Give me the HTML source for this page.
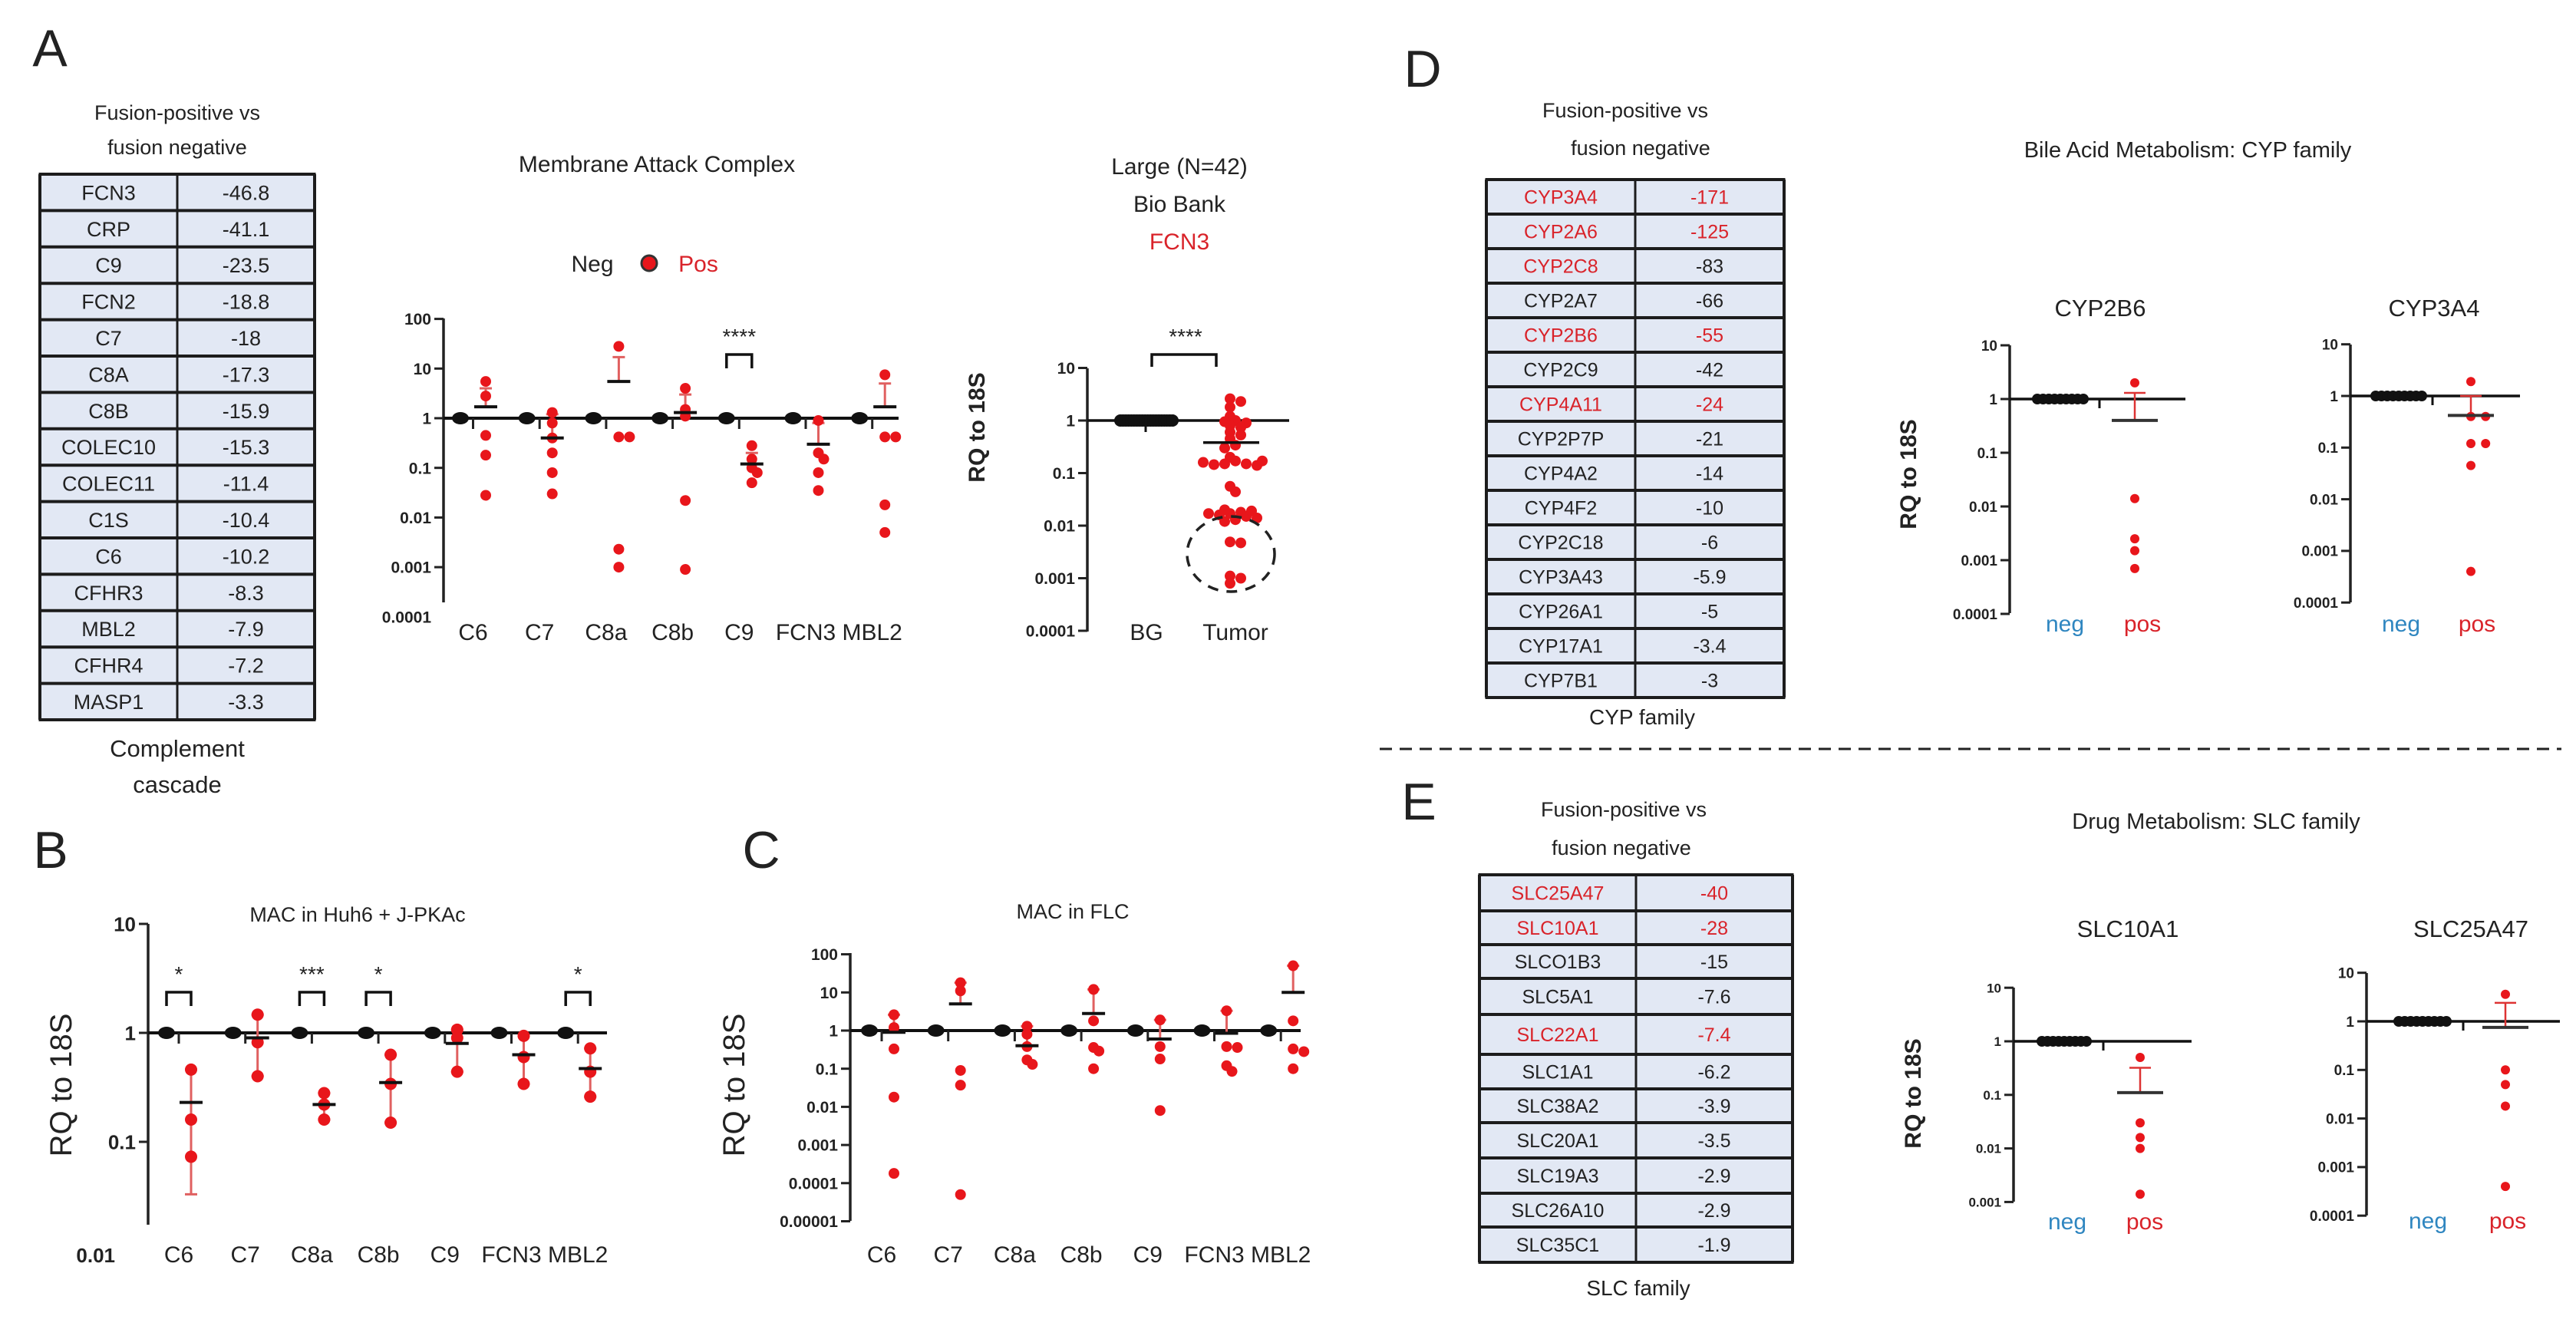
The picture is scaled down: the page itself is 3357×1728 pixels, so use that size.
<!DOCTYPE html>
<html><head><meta charset="utf-8">
<style>
html,body{margin:0;padding:0;background:#fff;}
svg{display:block;}
text{font-family:"Liberation Sans",sans-serif;}
</style></head>
<body>
<svg id="fig" xmlns="http://www.w3.org/2000/svg" width="3357" height="1728" viewBox="0 0 3357 1728">
<rect x="0" y="0" width="3357" height="1728" fill="#fff"/>
</svg>
<script>
// ===== Data =====
const tableAGenes = ["FCN3","CRP","C9","FCN2","C7","C8A","C8B","COLEC10","COLEC11","C1S","C6","CFHR3","MBL2","CFHR4","MASP1"];
const tableAValues = ["-46.8","-41.1","-23.5","-18.8","-18","-17.3","-15.9","-15.3","-11.4","-10.4","-10.2","-8.3","-7.9","-7.2","-3.3"];
const tableDGenes = ["CYP3A4","CYP2A6","CYP2C8","CYP2A7","CYP2B6","CYP2C9","CYP4A11","CYP2P7P","CYP4A2","CYP4F2","CYP2C18","CYP3A43","CYP26A1","CYP17A1","CYP7B1"];
const tableDValues = ["-171","-125","-83","-66","-55","-42","-24","-21","-14","-10","-6","-5.9","-5","-3.4","-3"];
const tableDRedGene = [1,1,1,0,1,0,1,0,0,0,0,0,0,0,0];
const tableDRedVal = [1,1,0,0,1,0,1,0,0,0,0,0,0,0,0];
const tableEGenes = ["SLC25A47","SLC10A1","SLCO1B3","SLC5A1","SLC22A1","SLC1A1","SLC38A2","SLC20A1","SLC19A3","SLC26A10","SLC35C1"];
const tableEValues = ["-40","-28","-15","-7.6","-7.4","-6.2","-3.9","-3.5","-2.9","-2.9","-1.9"];
const tableERed = [1,1,0,0,1,0,0,0,0,0,0];

const macCats = ["C6","C7","C8a","C8b","C9","FCN3","MBL2"];
const macPos = [[5.5,2.8,0.45,0.18,0.028],[1.3,0.8,0.4,0.2,0.08,0.03],[28,0.42,0.42,0.0023,0.001],[4,1.5,1.1,0.022,0.0009],[0.28,0.15,0.1,0.08,0.05],[0.9,0.2,0.15,0.08,0.035],[7.5,0.42,0.42,0.018,0.005]];
const macMean = [1.7,0.4,5.5,1.3,0.12,0.3,1.7];
const macHi = [4,1.2,17,3,0.2,0.8,5];
const macSig = ["","","","","****","",""];
const macTicks = [100,10,1,0.1,0.01,0.001,0.0001];
const macTickLabels = ["100","10","1","0.1","0.01","0.001","0.0001"];

const fcnBG = [1,1,1,1,1,1,1,1,1,1,1,1,1,1,1,1,1,1,1,1];
const fcnTumor = [2.6,2.3,1.8,1.2,1.0,0.95,0.9,0.8,0.74,0.6,0.53,0.45,0.34,0.3,0.2,0.17,0.15,0.15,0.145,0.14,0.16,0.17,0.056,0.044,0.017,0.018,0.016,0.015,0.017,0.02,0.019,0.013,0.014,0.012,0.0049,0.0047,0.0011,0.0008,0.001];
const fcnMean = 0.38;
const fcnTicks = [10,1,0.1,0.01,0.001,0.0001];
const fcnTickLabels = ["10","1","0.1","0.01","0.001","0.0001"];

const bCats = ["C6","C7","C8a","C8b","C9","FCN3","MBL2"];
const bPos = [[0.46,0.16,0.073],[1.47,0.82,0.4],[0.28,0.22,0.16],[0.63,0.34,0.15],[1.07,0.9,0.44],[0.94,0.6,0.34],[0.72,0.44,0.26]];
const bMean = [0.23,0.9,0.22,0.35,0.8,0.63,0.47];
const bLo = [0.033,0.4,0.16,0.15,0.44,0.34,0.26];
const bHi = [0.46,1.47,0.28,0.63,1.07,0.94,0.72];
const bSig = ["*","","***","*","","","*"];
const bTicks = [10,1,0.1];
const bTickLabels = ["10","1","0.1"];

const cCats = ["C6","C7","C8a","C8b","C9","FCN3","MBL2"];
const cPos = [[2.6,1.2,0.33,0.018,0.00018],[18,11,0.09,0.037,0.00005],[1.3,0.8,0.38,0.17,0.13],[12,1.8,0.36,0.29,0.1],[1.9,0.38,0.18,0.008],[3.3,0.38,0.36,0.12,0.085],[50,1.8,0.33,0.28,0.1]];
const cMean = [0.9,5,0.4,2.8,0.6,0.85,10];
const cHi = [2.6,18,1.3,12,1.9,3.3,50];
const cTicks = [100,10,1,0.1,0.01,0.001,0.0001,0.00001];
const cTickLabels = ["100","10","1","0.1","0.01","0.001","0.0001","0.00001"];

const cyp2b6Pos = [2.0,0.014,0.0025,0.0015,0.0007];
const cyp2b6Mean = 0.4, cyp2b6Hi = 1.3;
const cyp3a4Pos = [1.9,0.4,0.4,0.12,0.12,0.045,0.0004];
const cyp3a4Mean = 0.42, cyp3a4Hi = 1.0;
const slc10a1Pos = [0.5,0.03,0.016,0.01,0.0014];
const slc10a1Mean = 0.11, slc10a1Hi = 0.32;
const slc25a47Pos = [3.6,0.1,0.05,0.018,0.0004];
const slc25a47Mean = 0.75, slc25a47Hi = 2.4;
const smallTicks4 = [10,1,0.1,0.01,0.001,0.0001];
const smallTickLabels4 = ["10","1","0.1","0.01","0.001","0.0001"];
const smallTicks3 = [10,1,0.1,0.01,0.001];
const smallTickLabels3 = ["10","1","0.1","0.01","0.001"];

// ===== Helpers =====
const NS = "http://www.w3.org/2000/svg";
const svg = document.getElementById("fig");
const RED = "#e8161b";
function mk(tag, attrs, name, parent) {
  const el = document.createElementNS(NS, tag);
  for (const k in attrs) el.setAttribute(k, attrs[k]);
  
  
  (parent || svg).appendChild(el);
  return el;
}
function txt(x, y, s, size, name, opts) {
  opts = opts || {};
  const el = mk("text", {x: x, y: y, "font-size": size, "text-anchor": opts.anchor || "middle",
    fill: opts.fill || "#222", "font-weight": opts.weight || "normal"}, name, opts.parent);
  if (opts.rotate) el.setAttribute("transform", "rotate(-90 " + x + " " + y + ")");
  el.textContent = s;
  return el;
}
function line(x1, y1, x2, y2, w, color, name, extra) {
  const a = {x1: x1, y1: y1, x2: x2, y2: y2, stroke: color || "#111", "stroke-width": w};
  if (extra) for (const k in extra) a[k] = extra[k];
  return mk("line", a, name);
}
function logScale(yOne, decade) { return v => yOne - Math.log10(v) * decade; }
function yAxis(x, yTop, yBot, ticks, labels, yf, fs, prefix) {
  line(x, yTop, x, yBot, 3.5, "#222", prefix + "-y-axis");
  ticks.forEach((t, i) => {
    const y = yf(t);
    if (y <= yBot + 2) line(x - 12, y, x, y, 3, "#222", prefix + "-y-tick");
    txt(x - 16, y + fs * 0.36, labels[i], fs, prefix + "-y-tick-label", {anchor: "end", weight: "bold"});
  });
}
function table(x0, xd, x1, ys, genes, vals, redG, redV, fs, prefix) {
  mk("rect", {x: x0, y: ys[0], width: x1 - x0, height: ys[ys.length - 1] - ys[0], fill: "#e2e8f4"}, prefix + "-table-bg");
  for (let i = 0; i < ys.length; i++) line(x0 - 1.5, ys[i], x1 + 1.5, ys[i], 4, "#1c1c1c", prefix + "-table-rule");
  line(x0, ys[0], x0, ys[ys.length - 1], 4, "#1c1c1c", prefix + "-table-border");
  line(xd, ys[0], xd, ys[ys.length - 1], 3, "#1c1c1c", prefix + "-table-divider");
  line(x1, ys[0], x1, ys[ys.length - 1], 4, "#1c1c1c", prefix + "-table-border");
  genes.forEach((g, i) => {
    const cy = (ys[i] + ys[i + 1]) / 2 + fs * 0.36;
    txt((x0 + xd) / 2, cy, g, fs, prefix + "-gene-" + g, {fill: redG && redG[i] ? "#d9232a" : "#222"});
    txt((xd + x1) / 2, cy, vals[i], fs, prefix + "-fold-" + g, {fill: redV && redV[i] ? "#d9232a" : "#222"});
  });
}
function swarmOffsets(vals, decade, r) {
  // layout only: spread overlapping points horizontally
  const placed = [];
  return vals.map(v => {
    const y = -Math.log10(v) * decade;
    let off = 0, k = 0;
    while (placed.some(p => Math.hypot(p[0] - off, p[1] - y) < r * 1.2)) {
      k++; off = (k % 2 ? 1 : -1) * Math.ceil(k / 2) * r * 1.0;
    }
    placed.push([off, y]);
    return off;
  });
}
function groupChart(o) {
  const yf = logScale(o.yOne, o.decade);
  yAxis(o.axisX, o.axisTop, o.axisBot, o.ticks, o.tickLabels, yf, o.tickFs, o.prefix);
  line(o.axisX, yf(1), o.lineX2, yf(1), 4, "#111", o.prefix + "-baseline");
  o.cats.forEach((c, i) => {
    const nx = o.negX0 + i * o.sp, px = nx + o.off;
    line(nx + o.off * 0.5, yf(1), nx + o.off * 0.5, yf(1) + 14, 3, "#222", o.prefix + "-x-tick");
    mk("ellipse", {cx: nx, cy: yf(1), rx: o.negR + 3, ry: o.negR, fill: "#111"}, o.prefix + "-neg-" + c);
    const lo = o.lo ? o.lo[i] : o.mean[i];
    line(px, yf(o.hi[i]), px, yf(lo), 3, "#e06060", o.prefix + "-errbar-" + c);
    line(px - 8, yf(o.hi[i]), px + 8, yf(o.hi[i]), 3, "#e06060", o.prefix + "-errcap-" + c);
    if (o.lo) line(px - 8, yf(lo), px + 8, yf(lo), 3, "#e06060", o.prefix + "-errcap-" + c);
    const offs = swarmOffsets(o.pos[i], o.decade, o.posR);
    o.pos[i].forEach((v, j) => {
      mk("circle", {cx: px + offs[j], cy: yf(v), r: o.posR, fill: RED}, o.prefix + "-pos-" + c);
    });
    line(px - 15, yf(o.mean[i]), px + 15, yf(o.mean[i]), 4, "#111", o.prefix + "-mean-" + c);
    txt(nx + o.off / 2 + (o.labelDx || 0), o.labelY, c, o.labelFs, o.prefix + "-x-label-" + c);
    if (o.sig && o.sig[i]) {
      const by = o.sigY;
      mk("path", {d: `M${nx} ${by + 18} V${by} H${px} V${by + 18}`, fill: "none", stroke: "#111", "stroke-width": 3.5}, o.prefix + "-sig-bracket-" + c);
      txt((nx + px) / 2, by - 14, o.sig[i], o.sigFs, o.prefix + "-sig-stars-" + c);
    }
  });
  return yf;
}
function smallChart(o) {
  const yf = logScale(o.yOne, o.decade);
  yAxis(o.axisX, o.axisTop, o.axisBot, o.ticks, o.tickLabels, yf, o.tickFs, o.prefix);
  line(o.axisX, yf(1), o.lineX2, yf(1), 3.5, "#111", o.prefix + "-baseline");
  line(o.tickX, yf(1), o.tickX, yf(1) + 12, 3, "#111", o.prefix + "-x-tick");
  for (let k = 0; k < o.nNeg; k++) {
    mk("circle", {cx: o.negX1 + k * (o.negX2 - o.negX1) / (o.nNeg - 1), cy: yf(1), r: o.r + 1, fill: "#111"}, o.prefix + "-neg-dot");
  }
  line(o.posX, yf(o.hi), o.posX, yf(o.mean), 2.5, "#d33", o.prefix + "-errbar");
  line(o.posX - 14, yf(o.hi), o.posX + 14, yf(o.hi), 2.5, "#d33", o.prefix + "-errcap");
  const offs = swarmOffsets(o.pos, o.decade, o.r * 1.6);
  o.pos.forEach((v, j) => {
    mk("circle", {cx: o.posX + offs[j], cy: yf(v), r: o.r, fill: RED}, o.prefix + "-pos-dot");
  });
  line(o.posX - 30, yf(o.mean), o.posX + 30, yf(o.mean), 4, "#333", o.prefix + "-mean");
  txt(o.titleX, o.titleY, o.title, o.titleFs, o.prefix + "-title");
  txt(o.negLX, o.labelY, "neg", o.labelFs, o.prefix + "-neg-label", {fill: "#2f86c0"});
  txt(o.posLX, o.labelY, "pos", o.labelFs, o.prefix + "-pos-label", {fill: "#d9232a"});
  if (o.rqX) txt(o.rqX, o.rqY, "RQ to 18S", 30, o.prefix + "-y-title", {rotate: true, weight: "bold"});
}
function rowsFrom(top, bottom, n) { const a = []; for (let i = 0; i <= n; i++) a.push(top + (bottom - top) * i / n); return a; }

// ===== Panel A =====
txt(65, 86, "A", 68, "panel-label-a");
txt(231, 156, "Fusion-positive vs", 27, "table-a-header-line1");
txt(231, 201, "fusion negative", 27, "table-a-header-line2");
table(52, 231, 410, rowsFrom(227, 938, 15), tableAGenes, tableAValues, null, null, 27, "table-a");
txt(231, 986, "Complement", 31, "table-a-footer-line1");
txt(231, 1033, "cascade", 31, "table-a-footer-line2");

txt(856, 224, "Membrane Attack Complex", 30, "mac-title");
txt(772, 354, "Neg", 30, "mac-legend-neg");
mk("circle", {cx: 846, cy: 343, r: 10, fill: RED, stroke: "#333", "stroke-width": 3}, "mac-legend-marker");
txt(910, 354, "Pos", 30, "mac-legend-pos", {fill: "#d9232a"});
groupChart({prefix: "mac", cats: macCats, pos: macPos, mean: macMean, hi: macHi, sig: macSig,
  ticks: macTicks, tickLabels: macTickLabels, yOne: 545, decade: 64.7, axisX: 578, axisTop: 415, axisBot: 785,
  tickFs: 21, negX0: 600, sp: 86.7, off: 33, lineX2: 1171, negR: 8, posR: 7, labelY: 834, labelFs: 30,
  sigY: 462, sigFs: 28});

txt(1537, 227, "Large (N=42)", 30, "fcn3-title-line1");
txt(1537, 276, "Bio Bank", 30, "fcn3-title-line2");
txt(1537, 325, "FCN3", 30, "fcn3-title-gene", {fill: "#d9232a"});
(function () {
  const yf = logScale(548, 68.5);
  yAxis(1417, 480, 823, fcnTicks, fcnTickLabels, yf, 21, "fcn3");
  line(1417, yf(1), 1680, yf(1), 3.5, "#111", "fcn3-baseline");
  line(1493, yf(1), 1493, yf(1) + 15, 3, "#111", "fcn3-x-tick");
  fcnBG.forEach((v, k) => {
    mk("circle", {cx: 1460 + k * 68 / (fcnBG.length - 1), cy: yf(v), r: 8, fill: "#111"}, "fcn3-bg-dot");
  });
  const offs = swarmOffsets(fcnTumor, 68.5, 7);
  fcnTumor.forEach((v, j) => {
    mk("circle", {cx: 1603 + offs[j], cy: yf(v), r: 7, fill: RED}, "fcn3-tumor-dot");
  });
  line(1568, yf(fcnMean), 1641, yf(fcnMean), 3.5, "#111", "fcn3-tumor-mean");
  mk("ellipse", {cx: 1604, cy: 722, rx: 57, ry: 49, fill: "none", stroke: "#222", "stroke-width": 3.5, "stroke-dasharray": "14 11"}, "fcn3-dashed-circle");
  mk("path", {d: "M1501 478 V462 H1585 V478", fill: "none", stroke: "#111", "stroke-width": 3.5}, "fcn3-sig-bracket");
  txt(1545, 448, "****", 28, "fcn3-sig-stars");
  txt(1283, 557, "RQ to 18S", 30, "fcn3-y-title", {rotate: true, weight: "bold"});
  txt(1494, 834, "BG", 30, "fcn3-x-label-bg");
  txt(1610, 834, "Tumor", 30, "fcn3-x-label-tumor");
})();

// ===== Panel B =====
txt(66, 1131, "B", 68, "panel-label-b");
txt(466, 1201, "MAC in Huh6 + J-PKAc", 27, "b-title");
txt(93, 1414, "RQ to 18S", 40, "b-y-title", {rotate: true});
groupChart({prefix: "b", cats: bCats, pos: bPos, mean: bMean, lo: bLo, hi: bHi, sig: bSig,
  ticks: bTicks, tickLabels: bTickLabels, yOne: 1346, decade: 142, axisX: 193, axisTop: 1204, axisBot: 1596,
  tickFs: 26, negX0: 217, sp: 86.7, off: 32, lineX2: 791, negR: 8, posR: 8, labelY: 1645, labelFs: 30,
  sigY: 1293, sigFs: 28});
txt(150, 1645, "0.01", 26, "b-y-tick-label-bottom", {anchor: "end", weight: "bold"});

// ===== Panel C =====
txt(992, 1131, "C", 68, "panel-label-c");
txt(1398, 1197, "MAC in FLC", 27, "c-title");
txt(970, 1414, "RQ to 18S", 40, "c-y-title", {rotate: true});
groupChart({prefix: "c", cats: cCats, pos: cPos, mean: cMean, hi: cHi,
  ticks: cTicks, tickLabels: cTickLabels, yOne: 1343, decade: 49.7, axisX: 1108, axisTop: 1242, axisBot: 1591,
  tickFs: 21, negX0: 1133, sp: 86.7, off: 32, lineX2: 1695, negR: 8, posR: 7, labelY: 1645, labelFs: 30});

// ===== Panel D =====
txt(1854, 113, "D", 68, "panel-label-d");
txt(2118, 153, "Fusion-positive vs", 27, "table-d-header-line1");
txt(2138, 202, "fusion negative", 27, "table-d-header-line2");
table(1937, 2131, 2325, rowsFrom(234, 909, 15), tableDGenes, tableDValues, tableDRedGene, tableDRedVal, 25, "table-d");
txt(2140, 944, "CYP family", 28, "table-d-footer");
txt(2851, 205, "Bile Acid Metabolism: CYP family", 29, "d-title");
smallChart({prefix: "cyp2b6", title: "CYP2B6", titleX: 2737, titleY: 412, titleFs: 31,
  ticks: smallTicks4, tickLabels: smallTickLabels4, yOne: 520, decade: 70, axisX: 2619, axisTop: 450, axisBot: 799,
  tickFs: 19, lineX2: 2848, tickX: 2736, nNeg: 9, negX1: 2655, negX2: 2715, posX: 2782, pos: cyp2b6Pos,
  mean: cyp2b6Mean, hi: cyp2b6Hi, r: 6, negLX: 2691, posLX: 2792, labelY: 823, labelFs: 30, rqX: 2497, rqY: 618});
smallChart({prefix: "cyp3a4", title: "CYP3A4", titleX: 3172, titleY: 412, titleFs: 31,
  ticks: smallTicks4, tickLabels: smallTickLabels4, yOne: 516, decade: 67.3, axisX: 3063, axisTop: 449, axisBot: 785,
  tickFs: 19, lineX2: 3284, tickX: 3170, nNeg: 9, negX1: 3096, negX2: 3156, posX: 3220, pos: cyp3a4Pos,
  mean: cyp3a4Mean, hi: cyp3a4Hi, r: 6, negLX: 3129, posLX: 3228, labelY: 823, labelFs: 30});

line(1798, 976, 3338, 976, 3, "#222", "section-divider", {"stroke-dasharray": "16 10"});

// ===== Panel E =====
txt(1849, 1068, "E", 68, "panel-label-e");
txt(2116, 1064, "Fusion-positive vs", 27, "table-e-header-line1");
txt(2113, 1114, "fusion negative", 27, "table-e-header-line2");
table(1928, 2132, 2336, [1140,1187,1231,1275,1322,1374,1419,1463,1509,1555,1599,1645], tableEGenes, tableEValues, tableERed, tableERed, 25, "table-e");
txt(2135, 1688, "SLC family", 28, "table-e-footer");
txt(2888, 1080, "Drug Metabolism: SLC family", 29, "e-title");
smallChart({prefix: "slc10a1", title: "SLC10A1", titleX: 2773, titleY: 1221, titleFs: 31,
  ticks: smallTicks3, tickLabels: smallTickLabels3, yOne: 1357, decade: 69.8, axisX: 2624, axisTop: 1287, axisBot: 1566,
  tickFs: 17, lineX2: 2856, tickX: 2741, nNeg: 9, negX1: 2661, negX2: 2719, posX: 2789, pos: slc10a1Pos,
  mean: slc10a1Mean, hi: slc10a1Hi, r: 6, negLX: 2694, posLX: 2795, labelY: 1602, labelFs: 30, rqX: 2503, rqY: 1425});
smallChart({prefix: "slc25a47", title: "SLC25A47", titleX: 3220, titleY: 1221, titleFs: 31,
  ticks: smallTicks4, tickLabels: smallTickLabels4, yOne: 1331, decade: 63.3, axisX: 3084, axisTop: 1268, axisBot: 1584,
  tickFs: 19, lineX2: 3336, tickX: 3210, nNeg: 9, negX1: 3126, negX2: 3188, posX: 3265, pos: slc25a47Pos,
  mean: slc25a47Mean, hi: slc25a47Hi, r: 6, negLX: 3164, posLX: 3268, labelY: 1601, labelFs: 30});
</script>
</body></html>
